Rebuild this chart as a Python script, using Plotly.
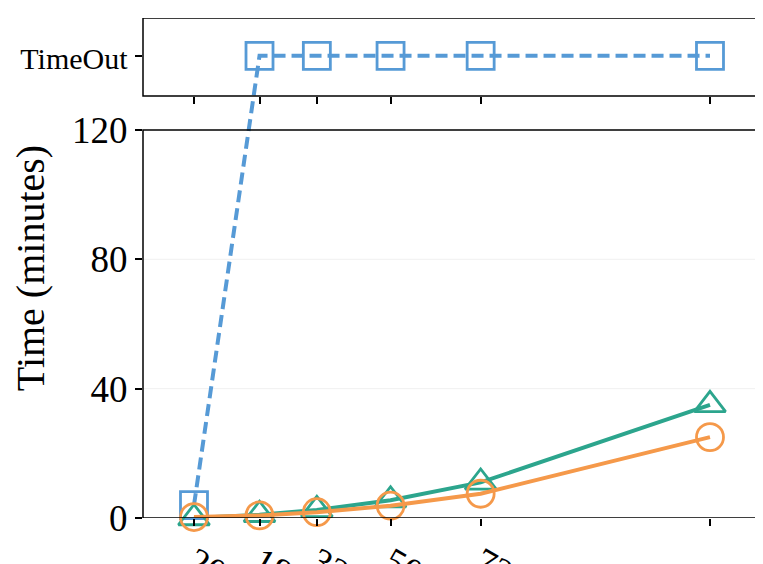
import plotly.graph_objects as go

sizes = [20, 180, 320, 500, 720, 1280]
green_vals = [0, 1.0, 2.5, 5.5, 11, 35]
orange_vals = [0.3, 0.8, 1.8, 3.8, 7.5, 25]
timeout_y = 142.9
blue_vals = [4, timeout_y, timeout_y, timeout_y, timeout_y, timeout_y]

ymax = 154.6
top_lo = 130.5

fig = go.Figure()
fig.add_trace(go.Scatter(x=sizes, y=blue_vals, mode="lines+markers",
                         line=dict(color="#569ad6", width=4, dash="12px,6px"),
                         marker=dict(symbol="square-open", size=27, color="#569ad6", line=dict(width=2.8)),
                         cliponaxis=False))
fig.add_trace(go.Scatter(x=sizes, y=green_vals, mode="lines+markers",
                         line=dict(color="#2ca58d", width=4),
                         marker=dict(symbol="triangle-up-open", size=27, color="#2ca58d", line=dict(width=2.8)),
                         cliponaxis=False))
fig.add_trace(go.Scatter(x=sizes, y=orange_vals, mode="lines+markers",
                         line=dict(color="#f5994a", width=4),
                         marker=dict(symbol="circle-open", size=27, color="#f5994a", line=dict(width=2.8)),
                         cliponaxis=False))

shapes = []
for g in [40, 80]:
    shapes.append(dict(type="line", xref="paper", yref="y", x0=0, x1=1, y0=g, y1=g,
                       line=dict(color="#f0f0f0", width=1), layer="below"))
shapes.append(dict(type="rect", xref="paper", yref="y", x0=0, x1=1, y0=0, y1=120,
                   line=dict(color="black", width=1.5)))
shapes.append(dict(type="rect", xref="paper", yref="y", x0=0, x1=1, y0=top_lo, y1=ymax,
                   line=dict(color="black", width=1.5)))

fig.update_layout(
    width=763, height=564,
    margin=dict(l=135, r=9, t=10, b=54),
    plot_bgcolor="white", paper_bgcolor="white",
    showlegend=False,
    font=dict(family="Liberation Serif", color="black"),
    shapes=shapes,
    xaxis=dict(range=[-104.5, 1407], tickvals=sizes, ticktext=[str(s) for s in sizes],
               ticks="outside", ticklen=7, tickwidth=1.5, tickcolor="black", showgrid=False,
               zeroline=False, automargin=False, tickfont=dict(size=37)),
    xaxis2=dict(range=[-104.5, 1407], overlaying="x", anchor="free", position=top_lo / ymax,
                side="bottom", tickvals=sizes, showticklabels=False, ticks="outside", ticklen=7,
                tickwidth=1.5, tickcolor="black", showgrid=False, zeroline=False),
    yaxis=dict(range=[0, ymax], tickvals=[0, 40, 80, 120, timeout_y],
               ticktext=["0", "40", "80", "120", "<span style='font-size:30px'>TimeOut</span>"],
               ticks="outside", ticklen=7, tickwidth=1.5, tickcolor="black", showgrid=False,
               zeroline=False, automargin=False, tickfont=dict(size=37),
               title=dict(text="Time (minutes)", font=dict(size=40), standoff=8)),
)
fig.add_trace(go.Scatter(x=[sizes[0]], y=[None], xaxis="x2", showlegend=False))
fig.write_html("out.html")
